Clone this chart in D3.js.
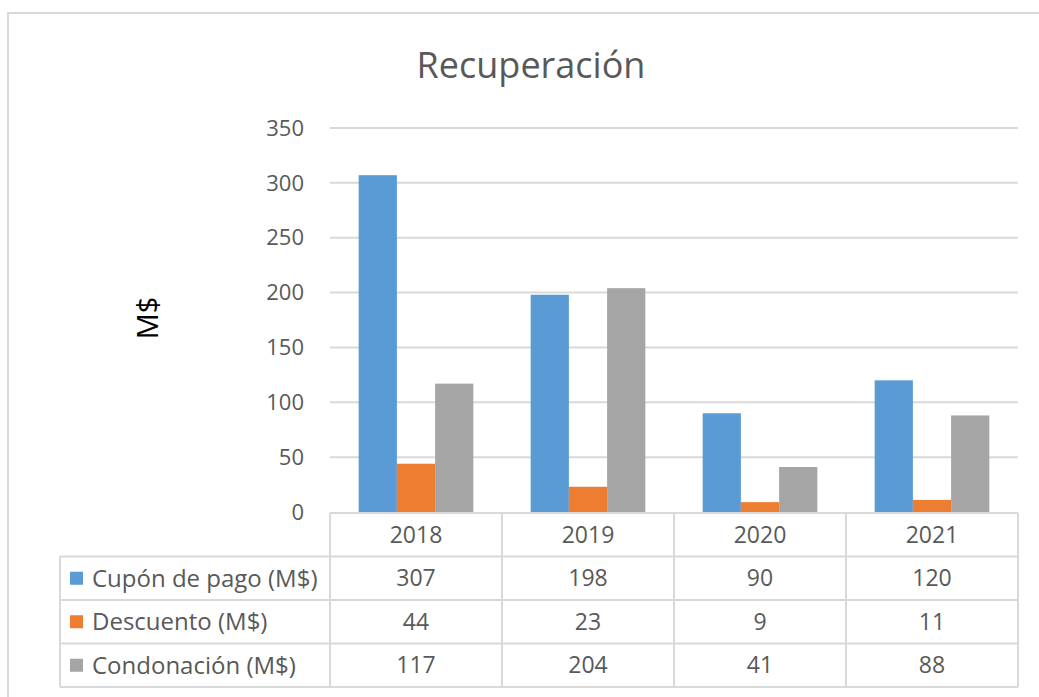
<!DOCTYPE html>
<html>
<head>
<meta charset="utf-8">
<title>Recuperación</title>
<script src="https://d3js.org/d3.v7.min.js"></script>
<style>
body { margin: 0; background: #ffffff; }
svg { font-family: "Open Sans", sans-serif; }
</style>
</head>
<body>
<svg width="1039" height="697"></svg>
<script>
// data
var years = ["2018", "2019", "2020", "2021"];
var seriesNames = ["Cupón de pago (M$)", "Descuento (M$)", "Condonación (M$)"];
var cupon = [307, 198, 90, 120];
var descuento = [44, 23, 9, 11];
var condonacion = [117, 204, 41, 88];
var yTicks = [0, 50, 100, 150, 200, 250, 300, 350];
var colors = ["#5b9bd5", "#ed7d31", "#a5a5a5"];

var seriesValues = [cupon, descuento, condonacion];

var svg = d3.select("svg");

var plotLeft = 330, plotRight = 1018, plotTop = 128, plotBottom = 512;
var tableLeft = 60, rowH = 43.5;
var grid = "#d9d9d9", textCol = "#595959";

// outer frame
svg.append("rect")
    .attr("x", 8).attr("y", 13)
    .attr("width", 1060).attr("height", 720)
    .attr("fill", "none")
    .attr("stroke", grid)
    .attr("stroke-width", 2);

var y = d3.scaleLinear().domain([0, 350]).range([plotBottom, plotTop]);
var x0 = d3.scaleBand().domain(years).range([plotLeft, plotRight]).padding(0);
var x1 = d3.scaleBand().domain(d3.range(seriesNames.length))
    .range([0, x0.bandwidth()]).paddingInner(0).paddingOuter(0.75);

// gridlines
svg.append("g").selectAll("line")
    .data(yTicks.filter(function(d) { return d > 0; }))
    .enter().append("line")
      .attr("x1", plotLeft).attr("x2", plotRight)
      .attr("y1", function(d) { return y(d); })
      .attr("y2", function(d) { return y(d); })
      .attr("stroke", grid).attr("stroke-width", 2);

// y tick labels
svg.append("g").selectAll("text")
    .data(yTicks)
    .enter().append("text")
      .attr("x", 304)
      .attr("y", function(d) { return y(d); })
      .attr("dy", "0.35em")
      .attr("text-anchor", "end")
      .attr("fill", textCol)
      .attr("font-size", 22)
      .text(function(d) { return d; });

// y axis title
svg.append("text")
    .attr("transform", "translate(158,318) rotate(-90)")
    .attr("text-anchor", "middle")
    .attr("font-size", 29)
    .attr("fill", "#000")
    .text("M$");

// chart title
svg.append("text")
    .attr("x", 531).attr("y", 78)
    .attr("text-anchor", "middle")
    .attr("font-size", 36)
    .attr("fill", textCol)
    .text("Recuperación");

// bars
var groups = svg.append("g").selectAll("g")
    .data(years)
    .enter().append("g")
      .attr("transform", function(d) { return "translate(" + x0(d) + ",0)"; });

groups.selectAll("rect")
    .data(function(d, i) {
      return seriesValues.map(function(vals, s) { return {s: s, v: vals[i]}; });
    })
    .enter().append("rect")
      .attr("x", function(d) { return x1(d.s); })
      .attr("width", x1.bandwidth())
      .attr("y", function(d) { return y(d.v); })
      .attr("height", function(d) { return y(0) - y(d.v); })
      .attr("fill", function(d) { return colors[d.s]; });

// data table
var tTop = plotBottom + 1;
var tab = svg.append("g").attr("stroke", grid).attr("stroke-width", 2);
// horizontal lines
tab.append("line").attr("x1", plotLeft).attr("x2", plotRight).attr("y1", tTop).attr("y2", tTop);
for (var r = 1; r <= seriesNames.length + 1; r++) {
  tab.append("line").attr("x1", tableLeft).attr("x2", plotRight)
      .attr("y1", tTop + r * rowH).attr("y2", tTop + r * rowH);
}
// vertical lines
tab.append("line").attr("x1", tableLeft).attr("x2", tableLeft)
    .attr("y1", tTop + rowH).attr("y2", tTop + 4 * rowH);
years.forEach(function(yr) {
  tab.append("line").attr("x1", x0(yr)).attr("x2", x0(yr))
      .attr("y1", tTop).attr("y2", tTop + 4 * rowH);
});
tab.append("line").attr("x1", plotRight).attr("x2", plotRight)
    .attr("y1", tTop).attr("y2", tTop + 4 * rowH);

// category labels
svg.append("g").selectAll("text")
    .data(years)
    .enter().append("text")
      .attr("x", function(d) { return x0(d) + x0.bandwidth() / 2; })
      .attr("y", tTop + rowH / 2)
      .attr("dy", "0.35em")
      .attr("text-anchor", "middle")
      .attr("fill", textCol)
      .attr("font-size", 23)
      .text(function(d) { return d; });

// rows
seriesNames.forEach(function(name, s) {
  var cy = tTop + (s + 1) * rowH + rowH / 2;
  svg.append("rect")
      .attr("x", 70).attr("y", cy - 6.5)
      .attr("width", 13).attr("height", 13)
      .attr("fill", colors[s]);
  svg.append("text")
      .attr("x", 92).attr("y", cy)
      .attr("dy", "0.35em")
      .attr("fill", textCol)
      .attr("font-size", 24)
      .text(name);
  svg.append("g").selectAll("text")
      .data(seriesValues[s])
      .enter().append("text")
        .attr("x", function(d, i) { return x0(years[i]) + x0.bandwidth() / 2; })
        .attr("y", cy)
        .attr("dy", "0.35em")
        .attr("text-anchor", "middle")
        .attr("fill", textCol)
        .attr("font-size", 23)
        .text(function(d) { return d; });
});
</script>
</body>
</html>
